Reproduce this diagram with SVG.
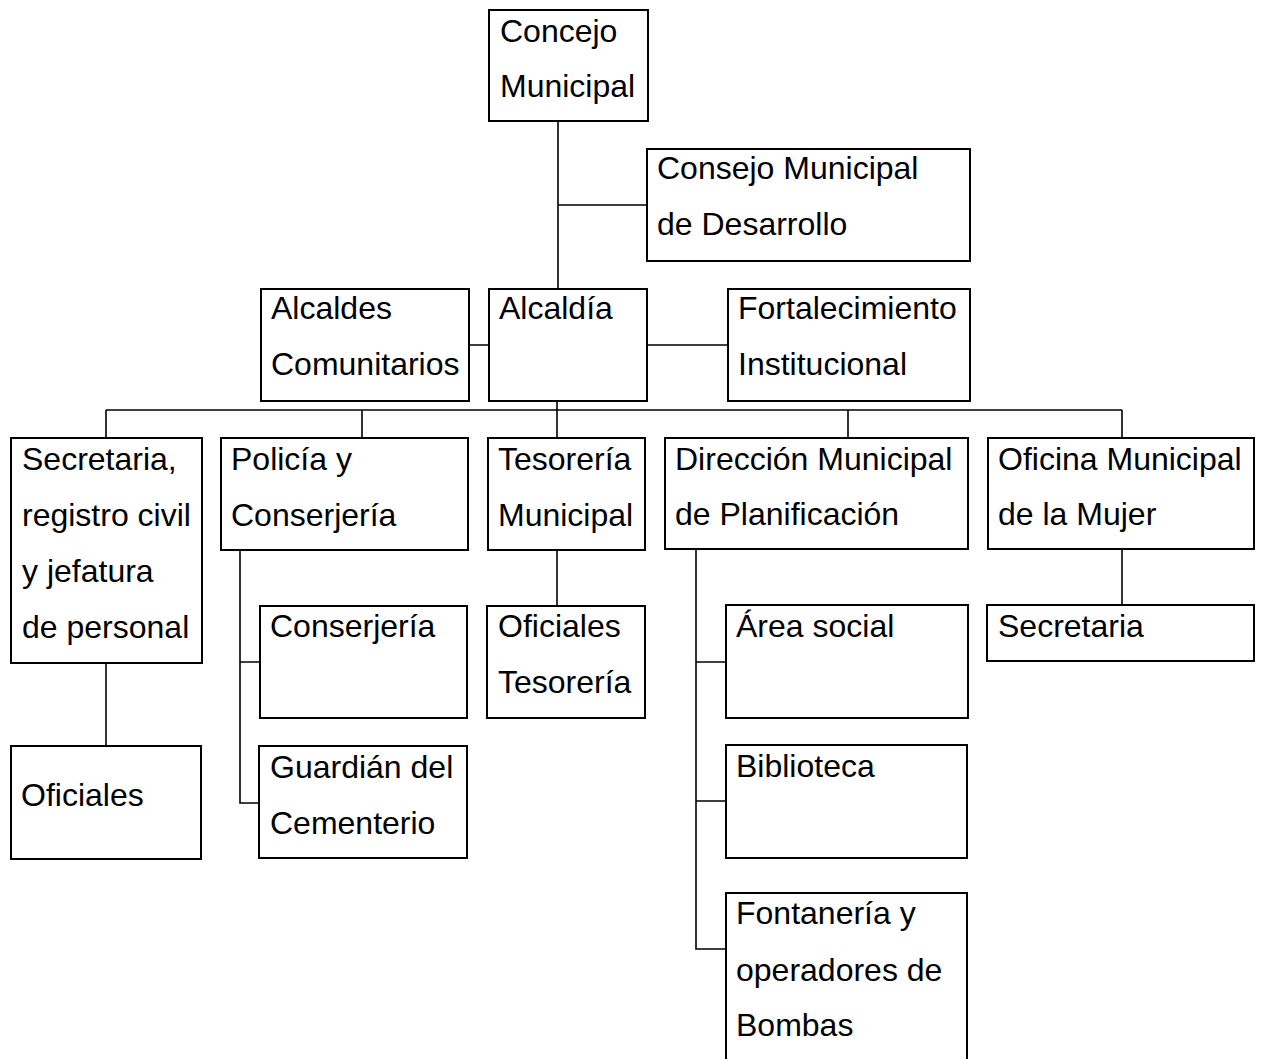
<svg xmlns="http://www.w3.org/2000/svg" width="1264" height="1059" viewBox="0 0 1264 1059">
<style>
.box{fill:#fff;stroke:#000;stroke-width:2}
.t{font-family:"Liberation Sans",Arial,sans-serif;font-size:32px;fill:#000}
.c{fill:none;stroke:#000;stroke-width:1.6}
</style>
<rect width="1264" height="1059" fill="#fff"/>
<g id="connectors">
<path class="c" d="M558 121V289M558 205H647"/>
<path class="c" d="M469 345H489M647 345H728"/>
<path class="c" d="M557 401V438M106 410H1122M106 410V438M362 410V438M848 410V438M1122 410V438"/>
<path class="c" d="M106 663V746"/>
<path class="c" d="M240 550V803H259M240 662H260"/>
<path class="c" d="M557 550V606"/>
<path class="c" d="M696 549V949H726M696 662H726M696 801H726"/>
<path class="c" d="M1122 549V605"/>
</g>
<g id="concejo"><rect class="box" x="489" y="10" width="159" height="111"/><text class="t" x="500" y="42">Concejo</text><text class="t" x="500" y="97">Municipal</text></g>
<g id="consejo"><rect class="box" x="647" y="149" width="323" height="112"/><text class="t" x="657" y="179">Consejo Municipal</text><text class="t" x="657" y="235">de Desarrollo</text></g>
<g id="alcaldes"><rect class="box" x="261" y="289" width="208" height="112"/><text class="t" x="271" y="319">Alcaldes</text><text class="t" x="271" y="375">Comunitarios</text></g>
<g id="alcaldia"><rect class="box" x="489" y="289" width="158" height="112"/><text class="t" x="499" y="319">Alcaldía</text></g>
<g id="fortalecimiento"><rect class="box" x="728" y="289" width="242" height="112"/><text class="t" x="738" y="319">Fortalecimiento</text><text class="t" x="738" y="375">Institucional</text></g>
<g id="secretaria-registro"><rect class="box" x="11" y="438" width="191" height="225"/><text class="t" x="22" y="470">Secretaria,</text><text class="t" x="22" y="526">registro civil</text><text class="t" x="22" y="582">y jefatura</text><text class="t" x="22" y="638">de personal</text></g>
<g id="oficiales"><rect class="box" x="11" y="746" width="190" height="113"/><text class="t" x="21" y="806">Oficiales</text></g>
<g id="policia"><rect class="box" x="221" y="438" width="247" height="112"/><text class="t" x="231" y="470">Policía y</text><text class="t" x="231" y="526">Conserjería</text></g>
<g id="conserjeria"><rect class="box" x="260" y="606" width="207" height="112"/><text class="t" x="270" y="637">Conserjería</text></g>
<g id="guardian"><rect class="box" x="259" y="746" width="208" height="112"/><text class="t" x="270" y="778">Guardián del</text><text class="t" x="270" y="834">Cementerio</text></g>
<g id="tesoreria"><rect class="box" x="488" y="438" width="157" height="112"/><text class="t" x="498" y="470">Tesorería</text><text class="t" x="498" y="526">Municipal</text></g>
<g id="oficiales-tesoreria"><rect class="box" x="487" y="606" width="158" height="112"/><text class="t" x="498" y="637">Oficiales</text><text class="t" x="498" y="693">Tesorería</text></g>
<g id="direccion"><rect class="box" x="665" y="438" width="303" height="111"/><text class="t" x="675" y="470">Dirección Municipal</text><text class="t" x="675" y="525">de Planificación</text></g>
<g id="area-social"><rect class="box" x="726" y="605" width="242" height="113"/><text class="t" x="736" y="637">Área social</text></g>
<g id="biblioteca"><rect class="box" x="726" y="745" width="241" height="113"/><text class="t" x="736" y="777">Biblioteca</text></g>
<g id="fontaneria"><rect class="box" x="726" y="893" width="241" height="175"/><text class="t" x="736" y="924">Fontanería y</text><text class="t" x="736" y="981">operadores de</text><text class="t" x="736" y="1036">Bombas</text></g>
<g id="oficina-mujer"><rect class="box" x="988" y="438" width="266" height="111"/><text class="t" x="998" y="470">Oficina Municipal</text><text class="t" x="998" y="525">de la Mujer</text></g>
<g id="secretaria"><rect class="box" x="987" y="605" width="267" height="56"/><text class="t" x="998" y="637">Secretaria</text></g>
</svg>
